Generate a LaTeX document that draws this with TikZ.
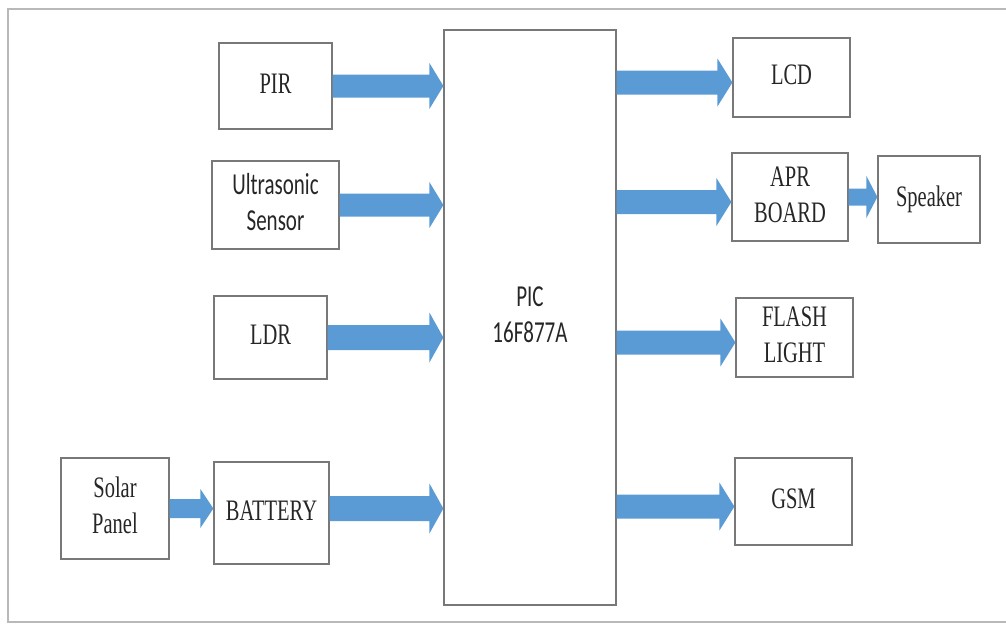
\documentclass[tikz,border=0pt]{standalone}
\usepackage{fontspec}
\setmainfont{Liberation Serif}
\newfontfamily\calibri{Carlito}
\usepackage{graphicx}
\definecolor{arrowblue}{RGB}{91,155,213}
\definecolor{boxgray}{RGB}{120,120,120}
\usetikzlibrary{calc,positioning}

% text is drawn tall and narrow as in the scanned figure
\newcommand{\tall}[1]{\scalebox{1}[1.45]{\begin{tabular}{@{}c@{}}#1\end{tabular}}}
% block arrow: from, to, half shaft, half head, head length
\newcommand{\fatarrow}[5]{%
  \coordinate (fas) at (#1); \coordinate (fae) at (#2);
  \fill[arrowblue] ($(fas)+(0,-#3)$) -- ($(fae)+(-#5,-#3)$) -- ($(fae)+(-#5,-#4)$) -- (fae)
    -- ($(fae)+(-#5,#4)$) -- ($(fae)+(-#5,#3)$) -- ($(fas)+(0,#3)$) -- cycle;}

\begin{document}
\begin{tikzpicture}[x=1pt, y=-1pt,
    unit/.style={draw=boxgray, line width=1.2pt, inner sep=0pt, text=black!85,
      font=\fontsize{20.5}{25}\selectfont},
    sans/.style={font=\calibri\fontsize{21}{25}\selectfont}]
    \useasboundingbox (0,0) rectangle (1006,624);
    \draw[gray!55, line width=1.2pt] (1006,9) -- (8,9) -- (8,622) -- (1006,622);

    % controller
    \node[unit, sans, minimum width=172, minimum height=575] (pic) at (530,317.5) {\tall{PIC\\16F877A}};

    % inputs
    \node[unit, minimum width=113, minimum height=86] (pir) at (275.5,86) {\tall{PIR}};
    \node[unit, sans, minimum width=127, minimum height=88] (ultra) at (275.5,205) {\tall{Ultrasonic\\Sensor}};
    \node[unit, minimum width=113, minimum height=83] (ldr) at (270.5,337.5) {\tall{LDR}};
    \node[unit, minimum width=108, minimum height=101] (solar) at (115,508.5) {\tall{Solar\\Panel}};
    \node[unit, minimum width=115, minimum height=102] (batt) at (271.5,513) {\tall{BATTERY}};

    % outputs
    \node[unit, minimum width=117, minimum height=79] (lcd) at (791.5,77.5) {\tall{LCD}};
    \node[unit, minimum width=116, minimum height=88] (apr) at (790,197) {\tall{APR\\BOARD}};
    \node[unit, minimum width=102, minimum height=87] (spk) at (929,199.5) {\tall{Speaker}};
    \node[unit, minimum width=117, minimum height=79] (flash) at (794.5,337.5) {\tall{FLASH\\LIGHT}};
    \node[unit, minimum width=117, minimum height=87] (gsm) at (793.5,501.5) {\tall{GSM}};

    % arrows into the controller
    \fatarrow{pir.east}{pir.east -| pic.west}{11.5}{23}{14}
    \fatarrow{ultra.east}{ultra.east -| pic.west}{11.5}{23}{14}
    \fatarrow{ldr.east}{ldr.east -| pic.west}{12.5}{25}{14}
    \fatarrow{solar.east}{solar.east -| batt.west}{9.5}{19.5}{13}
    \fatarrow{solar.east -| batt.east}{solar.east -| pic.west}{12.5}{25}{14}

    % arrows out of the controller
    \foreach \dev in {lcd,apr,flash,gsm} {
        \coordinate (in\dev) at ($(\dev.west)+(0,5)$);
        \fatarrow{in\dev -| pic.east}{in\dev}{12}{24}{15}
    }
    \fatarrow{apr.east}{apr.east -| spk.west}{8.5}{21}{11}
\end{tikzpicture}
\end{document}
